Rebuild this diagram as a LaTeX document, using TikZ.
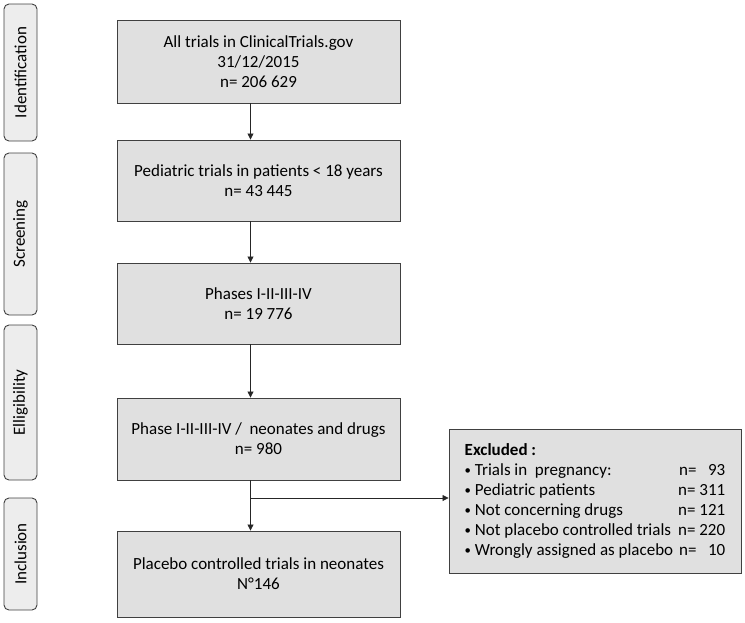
\documentclass[tikz,border=0pt]{standalone}
\usepackage{fontspec}
\setmainfont{Carlito}
\usetikzlibrary{positioning,arrows.meta}

\newcommand{\exbullet}{\raisebox{.12ex}{\scalebox{.75}{•}}\ }

\tikzset{
  stepbox/.style={draw=black!75, fill=black!12, line width=0.9pt, minimum width=283pt,
    align=center, font=\fontsize{17}{20}\selectfont, inner sep=2pt},
  phase/.style={draw=black!75, fill=black!7, line width=0.9pt, rounded corners=5pt,
    minimum width=33pt, rotate=90, font=\fontsize{17}{20}\selectfont, inner sep=0pt},
  flow/.style={-{Triangle[length=6pt,width=6pt]}, line width=0.8pt, black!85}
}

\begin{document}
\begin{tikzpicture}[x=1pt, y=-1pt]
  \useasboundingbox (0,0) rectangle (745,622);
  % phases on the left
  \node[phase, minimum width=137pt, minimum height=33pt] (ident) at (20.5,72.5) {Identification};
  \node[phase, minimum width=162pt, minimum height=33pt] (screen) at (20.5,234) {Screening};
  \node[phase, minimum width=155pt, minimum height=33pt] (elig) at (20.5,402.5) {Elligibility};
  \node[phase, minimum width=112pt, minimum height=33pt] (incl) at (20.5,554) {Inclusion};

  % main flow
  \node[stepbox, minimum height=83pt] (all) at (258.5,61.5)
       {All trials in ClinicalTrials.gov\\31/12/2015\\n= 206 629};
  \node[stepbox, minimum height=81pt] (pedia) at (258.5,180.5)
       {Pediatric trials in patients < 18 years\\n= 43 445};
  \node[stepbox, minimum height=81pt] (phases) at (258.5,303.5)
       {Phases I-II-III-IV\\n= 19 776};
  \node[stepbox, minimum height=82pt] (neo) at (258.5,439)
       {Phase I-II-III-IV /\ \ neonates and drugs\\n= 980};
  \node[stepbox, minimum height=86pt] (placebo) at (258.5,574)
       {Placebo controlled trials in neonates\\N°146};

  % excluded trials
  \node[draw=black!75, fill=black!12, line width=0.9pt, minimum width=292pt, minimum height=144pt,
        inner sep=4pt, font=\fontsize{17}{20}\selectfont] (excl) at (595,501.5) {%
    \begin{tabular}{@{}l@{\hspace{5pt}}r@{}}
      \multicolumn{2}{@{}l}{\textbf{Excluded :}}\\
      \exbullet Trials in\ \ pregnancy: & n=\ \ \ 93\\
      \exbullet Pediatric patients & n= 311\\
      \exbullet Not concerning drugs & n= 121\\
      \exbullet Not placebo controlled trials & n= 220\\
      \exbullet Wrongly assigned as placebo & n=\ \ \ 10
    \end{tabular}};

  \draw[flow] ([xshift=-8pt]all.south) -- ([xshift=-8pt]pedia.north);
  \draw[flow] ([xshift=-8pt]pedia.south) -- ([xshift=-8pt]phases.north);
  \draw[flow] ([xshift=-8pt]phases.south) -- ([xshift=-8pt]neo.north);
  \draw[flow] ([xshift=-8pt]neo.south) -- ([xshift=-8pt]placebo.north);
  \coordinate (branch) at ([xshift=-8pt]neo.south |- 0,498);
  \draw[flow] (branch) -- (branch -| excl.west);
\end{tikzpicture}
\end{document}
